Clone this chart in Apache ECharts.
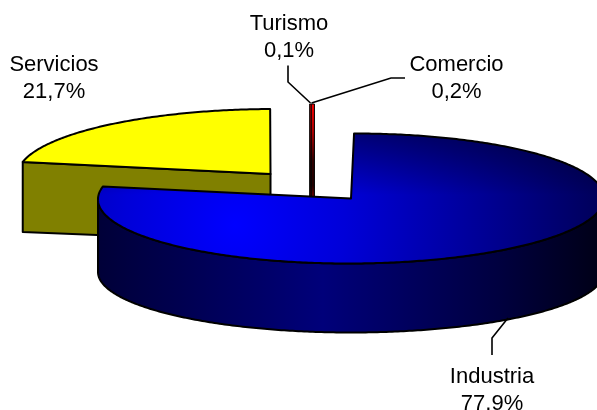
<!DOCTYPE html>
<html>
<head>
<meta charset="utf-8">
<style>html,body{margin:0;padding:0;background:#fff}#main{width:597px;height:410px}</style>
<script src="https://cdn.jsdelivr.net/npm/echarts@6/dist/echarts.min.js"></script>
</head>
<body>
<div id="main"></div>
<script>
const categories = ["Industria", "Servicios", "Turismo", "Comercio"];
const values = [77.9, 21.7, 0.1, 0.2];
const percentLabels = ["77,9%", "21,7%", "0,1%", "0,2%"];

// squashed disc: exploded centre, shear and draw order for each slice
const RX = 253, RY = 65;
const BOTTOM_DY = 73.5, BOTTOM_RY = 60.5;
const sliceLayout = [
  { cx: 351, cy: 198.5, shear: 3 / 64, z: 40 },
  { cx: 270.5, cy: 174, shear: 4.5 / 66, z: 10 },
  { cx: 310.5, cy: 169, shear: 4 / 66, z: 20 },
  { cx: 310.5, cy: 169, shear: 4 / 66, z: 22 }
];
const labelLayout = [
  { x: 492, y: 390, line: [[492, 355], [492, 338], [508, 318]] },
  { x: 54, y: 78, line: null },
  { x: 289, y: 37, line: [[288, 65.5], [288, 82], [310.5, 103]] },
  { x: 456.5, y: 78, line: [[405, 78], [391, 78], [311.5, 103]] }
];
const topColors = ["#0000ff", "#ffff00", "#ff0000", "#ff0000"];
const FONT = '"Liberation Sans", Arial, sans-serif';

const total = values.reduce((a, b) => a + b, 0);
const startAngles = values.map((v, i) => values.slice(0, i).reduce((a, b) => a + b, 0) / total * 360);

function rimPoint(l, deg, bottom) {
  const r = deg * Math.PI / 180;
  if (bottom) return [l.cx + Math.sin(r) * RX, l.cy + BOTTOM_DY - Math.cos(r) * BOTTOM_RY];
  const y = -Math.cos(r) * RY;
  return [l.cx + Math.sin(r) * RX - y * l.shear, l.cy + y];
}
function arc(l, from, to, bottom) {
  const pts = [], n = Math.max(2, Math.ceil(Math.abs(to - from) * 1.5));
  for (let i = 0; i <= n; i++) pts.push(rimPoint(l, from + (to - from) * i / n, bottom));
  return pts;
}

function renderSlice(params, api) {
  const i = params.dataIndex;
  const l = sliceLayout[i];
  const a0 = startAngles[i];
  const a1 = a0 + api.value(0) / total * 360;
  const apex = [l.cx, l.cy];
  const children = [];
  const edge = { stroke: "#000", lineWidth: 2, lineJoin: "round" };

  if (i === 0) {
    // outer wall, from the far right round the front to the far left
    const wall = arc(l, 90, 270, false).concat(arc(l, 270, 90, true));
    children.push({
      type: "polygon", z2: l.z, shape: { points: wall },
      style: Object.assign({
        fill: new echarts.graphic.LinearGradient(98, 0, 597, 0, [
          { offset: 0, color: "#000038" },
          { offset: 0.45, color: "#00007a" },
          { offset: 0.8, color: "#000040" },
          { offset: 1, color: "#000018" }
        ], true)
      }, edge)
    });
    const top = [apex].concat(arc(l, a0, a1, false));
    children.push({
      type: "polygon", z2: l.z + 1, shape: { points: top },
      style: {
        fill: new echarts.graphic.RadialGradient(235, 225, 370, [
          { offset: 0, color: "#0000ff" },
          { offset: 0.3, color: "#0000d8" },
          { offset: 0.7, color: "#000090" },
          { offset: 1, color: "#000058" }
        ], true)
      }
    });
    // back of the disc goes darker
    children.push({
      type: "polygon", z2: l.z + 2, shape: { points: top },
      silent: true,
      style: {
        fill: new echarts.graphic.LinearGradient(0, 134, 0, 195, [
          { offset: 0, color: "rgba(0,0,0,0.4)" },
          { offset: 1, color: "rgba(0,0,0,0)" }
        ], true)
      }
    });
    children.push({
      type: "polygon", z2: l.z + 3, shape: { points: top },
      style: Object.assign({ fill: "none" }, edge)
    });
  } else if (i === 1) {
    // flat cut face seen from the front
    const p = rimPoint(l, a0, false);
    const face = [p, apex, [apex[0], apex[1] + 68], [p[0], p[1] + 70]];
    children.push({
      type: "polygon", z2: l.z, shape: { points: face },
      style: Object.assign({ fill: "#808000" }, edge)
    });
    children.push({
      type: "polygon", z2: l.z + 1,
      shape: { points: [apex].concat(arc(l, a0, a1, false)) },
      style: Object.assign({ fill: topColors[i] }, edge)
    });
  } else {
    // thin slices read as a narrow upright bar running down behind Industria
    const p = rimPoint(l, a0, false);
    const q = rimPoint(l, a1, false);
    const yEnd = l.cy + 40;
    children.push({
      type: "polygon", z2: l.z,
      shape: { points: [p, q, [q[0], yEnd], [p[0], yEnd]] },
      style: {
        fill: new echarts.graphic.LinearGradient(0, 103, 0, 200, [
          { offset: 0, color: topColors[i] },
          { offset: 0.3, color: "#b00000" },
          { offset: 0.6, color: "#300000" },
          { offset: 0.85, color: "#200000" },
          { offset: 1, color: "#800000" }
        ], true),
        stroke: "#000", lineWidth: 1, lineJoin: "round"
      }
    });
  }

  const lab = labelLayout[i];
  if (lab.line) {
    children.push({
      type: "polyline", z2: 60, shape: { points: lab.line },
      style: { fill: "none", stroke: "#000", lineWidth: 1.6 }
    });
  }
  children.push({
    type: "text", z2: 61, x: lab.x, y: lab.y,
    style: {
      text: categories[i] + "\n" + percentLabels[i],
      font: "22px " + FONT, fill: "#000",
      align: "center", verticalAlign: "middle", lineHeight: 27
    }
  });
  return { type: "group", children: children };
}

const chart = echarts.init(document.getElementById("main"), null, { renderer: "canvas" });
chart.setOption({
  backgroundColor: "#fff",
  animation: false,
  series: [{
    type: "custom",
    coordinateSystem: "none",
    renderItem: renderSlice,
    data: values.map(v => [v])
  }]
});
</script>
</body>
</html>
